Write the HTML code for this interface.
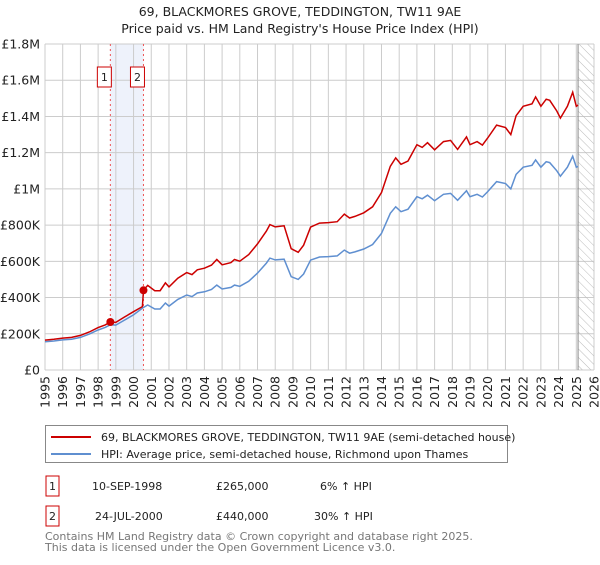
<!DOCTYPE html>
<html><head><meta charset="utf-8"><style>
body{margin:0;background:#fff;font-family:"Liberation Sans","DejaVu Sans",sans-serif;}
svg text{font-family:"DejaVu Sans","Liberation Sans",sans-serif;}
</style></head><body>
<svg id="chart" width="600" height="560" xmlns="http://www.w3.org/2000/svg">
<defs><pattern id="hatch" width="6" height="6" patternUnits="userSpaceOnUse" patternTransform="rotate(-45)"><line x1="0" y1="0" x2="0" y2="6" stroke="#bbb" stroke-width="1"/></pattern></defs>
<text x="300" y="16" text-anchor="middle" font-size="12.5" fill="#222">69, BLACKMORES GROVE, TEDDINGTON, TW11 9AE</text>
<text x="300" y="33" text-anchor="middle" font-size="12.5" fill="#222">Price paid vs. HM Land Registry's House Price Index (HPI)</text>
<g id="grid"></g><g id="marks"></g><g id="axes"></g>
<g>
<rect x="45.5" y="425.5" width="462" height="37" fill="#fff" stroke="#888"/>
<line x1="51" y1="437" x2="91" y2="437" stroke="#cc0000" stroke-width="2"/>
<text x="101" y="441" font-size="11" fill="#222">69, BLACKMORES GROVE, TEDDINGTON, TW11 9AE (semi-detached house)</text>
<line x1="51" y1="454" x2="91" y2="454" stroke="#5f8fd0" stroke-width="2"/>
<text x="101" y="458" font-size="11" fill="#222">HPI: Average price, semi-detached house, Richmond upon Thames</text>
</g>
<g font-size="11" fill="#222">
<rect x="46" y="476" width="13" height="20" fill="#fff" stroke="#cc0000"/><text x="52.5" y="490" text-anchor="middle">1</text>
<text x="92" y="490">10-SEP-1998</text><text x="216" y="490">£265,000</text><text x="320" y="490">6% ↑ HPI</text>
<rect x="46" y="506" width="13" height="20" fill="#fff" stroke="#cc0000"/><text x="52.5" y="520" text-anchor="middle">2</text>
<text x="95" y="520">24-JUL-2000</text><text x="216" y="520">£440,000</text><text x="314" y="520">30% ↑ HPI</text>
</g>
<text x="45" y="540" font-size="11" fill="#777">Contains HM Land Registry data © Crown copyright and database right 2025.</text>
<text x="45" y="551" font-size="11" fill="#777">This data is licensed under the Open Government Licence v3.0.</text>
</svg>
<script>
const hpiYears=[1995.0,1995.5,1996.0,1996.5,1997.0,1997.5,1998.0,1998.4,1998.7,1999.0,1999.5,2000.0,2000.5,2000.8,2001.2,2001.5,2001.8,2002.0,2002.5,2003.0,2003.3,2003.6,2004.0,2004.4,2004.7,2005.0,2005.5,2005.7,2006.0,2006.5,2007.0,2007.5,2007.7,2008.0,2008.5,2008.9,2009.3,2009.6,2010.0,2010.5,2011.0,2011.5,2011.9,2012.2,2012.5,2013.0,2013.5,2014.0,2014.5,2014.8,2015.1,2015.5,2016.0,2016.3,2016.6,2017.0,2017.5,2017.9,2018.3,2018.8,2019.0,2019.4,2019.7,2020.0,2020.5,2021.0,2021.3,2021.6,2022.0,2022.5,2022.7,2023.0,2023.3,2023.5,2023.9,2024.1,2024.5,2024.8,2025.0,2025.1];
const hpiValues=[156,160,166,170,180,198,221,235,250,248,276,304,342,359,337,337,370,353,390,414,405,425,432,445,469,447,456,469,462,490,535,590,618,608,612,515,500,530,607,624,626,630,662,645,652,668,693,754,865,901,874,888,957,945,965,935,970,975,937,990,957,970,955,985,1040,1030,1000,1080,1120,1130,1160,1120,1150,1145,1100,1070,1120,1180,1120,1125];
const priceYears=[1995.0,1995.5,1996.0,1996.5,1997.0,1997.5,1998.0,1998.4,1998.69,1999.0,1999.5,2000.0,2000.5,2000.56,2000.8,2001.2,2001.5,2001.8,2002.0,2002.5,2003.0,2003.3,2003.6,2004.0,2004.4,2004.7,2005.0,2005.5,2005.7,2006.0,2006.5,2007.0,2007.5,2007.7,2008.0,2008.5,2008.9,2009.3,2009.6,2010.0,2010.5,2011.0,2011.5,2011.9,2012.2,2012.5,2013.0,2013.5,2014.0,2014.5,2014.8,2015.1,2015.5,2016.0,2016.3,2016.6,2017.0,2017.5,2017.9,2018.3,2018.8,2019.0,2019.4,2019.7,2020.0,2020.5,2021.0,2021.3,2021.6,2022.0,2022.5,2022.7,2023.0,2023.3,2023.5,2023.9,2024.1,2024.5,2024.8,2025.0,2025.1];
const priceValues=[165,170,176,180,191,210,234,249,265,263,293,322,350,440,467,438,438,481,459,507,538,527,553,562,579,610,581,593,610,601,637,696,767,803,790,796,670,650,689,789,811,814,819,861,839,848,868,901,980,1125,1171,1136,1154,1244,1229,1255,1216,1261,1268,1218,1287,1244,1261,1242,1281,1352,1339,1300,1404,1456,1469,1508,1456,1495,1489,1430,1391,1456,1534,1456,1463];
const saleYears=[1998.69,2000.56];
const saleValues=[265,440];
const saleLabels=["1","2"];
const yTicks=[0,200,400,600,800,1000,1200,1400,1600,1800];
const yTickLabels=["£0","£200K","£400K","£600K","£800K","£1M","£1.2M","£1.4M","£1.6M","£1.8M"];
const xTicks=[1995,1996,1997,1998,1999,2000,2001,2002,2003,2004,2005,2006,2007,2008,2009,2010,2011,2012,2013,2014,2015,2016,2017,2018,2019,2020,2021,2022,2023,2024,2025,2026];
const dataEnd=2025.1;

const X0=45,X1=594,Y0=370,Y1=44;
const xs=y=>X0+(y-1995)/(2026-1995)*(X1-X0);
const ys=v=>Y0-v/1800*(Y0-Y1);
const NS="http://www.w3.org/2000/svg";
function mk(tag,attrs,parent){const e=document.createElementNS(NS,tag);for(const k in attrs)e.setAttribute(k,attrs[k]);parent.appendChild(e);return e;}
const grid=document.getElementById('grid'),marks=document.getElementById('marks'),axes=document.getElementById('axes');
// band
let band=mk('rect',{x:xs(saleYears[0]),y:Y1,width:xs(saleYears[1])-xs(saleYears[0]),height:Y0-Y1,fill:'#eef2fb'},grid);


yTicks.forEach((t,i)=>{
  let l=mk('line',{x1:X0,x2:X1,y1:ys(t),y2:ys(t),stroke:'#cccccc','stroke-width':1},grid);
  
  
  let tx=mk('text',{x:X0-5,y:ys(t)+4.5,'text-anchor':'end','font-size':12.5,fill:'#222'},axes);
  tx.textContent=yTickLabels[i];
  
  
});
xTicks.forEach(t=>{
  let l=mk('line',{x1:xs(t),x2:xs(t),y1:Y1,y2:Y0,stroke:'#cccccc','stroke-width':1},grid);
  
  
  let tx=mk('text',{x:0,y:0,'text-anchor':'end','font-size':12.5,fill:'#222',transform:`translate(${xs(t)+4.5},${Y0+6}) rotate(-90)`},axes);
  tx.textContent=t;
  
  
});
let hatch=mk('rect',{x:xs(dataEnd),y:Y1,width:X1-xs(dataEnd),height:Y0-Y1,fill:'url(#hatch)'},grid);


let endl=mk('line',{x1:xs(dataEnd),x2:xs(dataEnd),y1:Y1,y2:Y0,stroke:'#888','stroke-width':1},grid);


saleYears.forEach((s,i)=>{
  let l=mk('line',{x1:xs(s),x2:xs(s),y1:Y1,y2:Y0,stroke:'#ee5555','stroke-width':1,'stroke-dasharray':'2,3'},marks);
  
  
  let r=mk('rect',{x:xs(s)-13,y:67,width:14,height:20,fill:'#fff',stroke:'#cc0000'},marks);
  
  
  let t=mk('text',{x:xs(s)-6,y:81,'text-anchor':'middle','font-size':11,fill:'#222'},marks);
  t.textContent=saleLabels[i];
  
  
});
function path(yrs,vals){return yrs.map((y,i)=>(i?'L':'M')+xs(y).toFixed(1)+','+ys(vals[i]).toFixed(1)).join('');}
let hp=mk('path',{d:path(hpiYears,hpiValues),fill:'none',stroke:'#5f8fd0','stroke-width':1.5},marks);


let pp=mk('path',{d:path(priceYears,priceValues),fill:'none',stroke:'#cc0000','stroke-width':1.5},marks);


saleYears.forEach((s,i)=>{
  let c=mk('circle',{cx:xs(s),cy:ys(saleValues[i]),r:4,fill:'#cc0000'},marks);
  
  
});
</script>
</body></html>
